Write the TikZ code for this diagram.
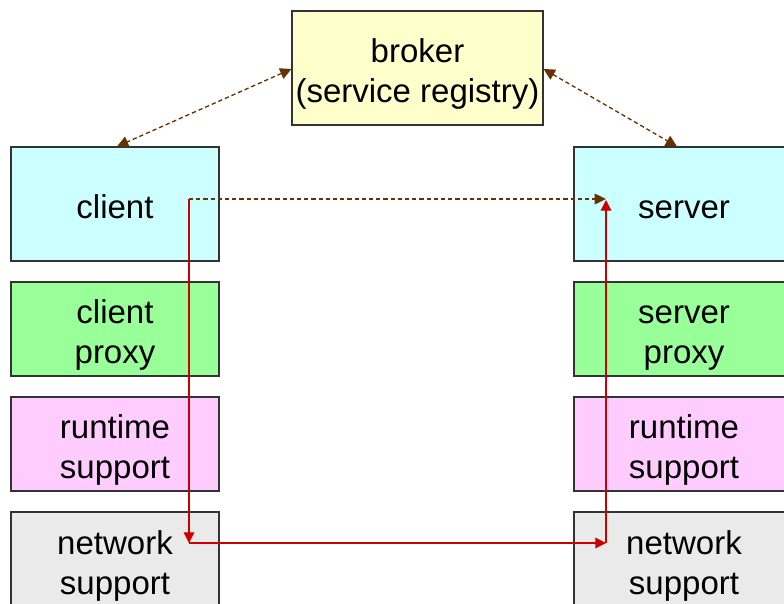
\documentclass[tikz,border=0pt]{standalone}
\usepackage{fontspec}
\setmainfont{Liberation Sans}
\usetikzlibrary{arrows.meta}
\definecolor{brokerfill}{HTML}{FFFFCC}
\definecolor{cyanfill}{HTML}{CCFFFF}
\definecolor{greenfill}{HTML}{99FF99}
\definecolor{pinkfill}{HTML}{FFCCFF}
\definecolor{grayfill}{HTML}{EAEAEA}
\definecolor{brownline}{HTML}{663300}
\definecolor{redline}{HTML}{CC0000}
\tikzset{
  box/.style={draw=black!80, line width=0.8pt, inner sep=0pt},
  lbl/.style={align=center, inner sep=0pt, yshift=-4.5pt,
    font=\fontsize{24.75}{30}\selectfont},
  brokerarrow/.style={brownline, line width=1pt, dash pattern=on 3.2pt off 2.2pt,
    {Triangle[length=8.5pt,width=8.5pt]}-{Triangle[length=8.5pt,width=8.5pt]}},
  callarrow/.style={brownline, line width=1pt, dash pattern=on 3.2pt off 2.2pt,
    -{Triangle[length=8.5pt,width=8pt]}},
  flowarrow/.style={redline, line width=0.9pt, -{Triangle[length=8pt,width=8pt]}}
}
\begin{document}
\begin{tikzpicture}[x=0.75pt,y=-0.75pt]
\useasboundingbox (0,0) rectangle (784,603);
\clip (0,0) rectangle (784,603);
\node[box, fill=brokerfill, minimum width=188.25pt, minimum height=85.5pt,
  label={[lbl]center:{broker\strut\\(service registry)\strut}}] (broker) at (417.5,68) {};
\node[box, fill=cyanfill, minimum width=156pt, minimum height=85.5pt,
  label={[lbl]center:{client\strut}}] (client) at (115,204) {};
\node[box, fill=greenfill, minimum width=156pt, minimum height=70.5pt,
  label={[lbl]center:{client\strut\\proxy\strut}}] (cproxy) at (115,329) {};
\node[box, fill=pinkfill, minimum width=156pt, minimum height=70.5pt,
  label={[lbl]center:{runtime\strut\\support\strut}}] (crun) at (115,444) {};
\node[box, fill=grayfill, minimum width=156pt, minimum height=72pt,
  label={[lbl]center:{network\strut\\support\strut}}] (cnet) at (115,560) {};
\node[box, fill=cyanfill, minimum width=165pt, minimum height=85.5pt,
  label={[lbl]center:{server\strut}}] (server) at (684,204) {};
\node[box, fill=greenfill, minimum width=165pt, minimum height=70.5pt,
  label={[lbl]center:{server\strut\\proxy\strut}}] (sproxy) at (684,329) {};
\node[box, fill=pinkfill, minimum width=165pt, minimum height=70.5pt,
  label={[lbl]center:{runtime\strut\\support\strut}}] (srun) at (684,444) {};
\node[box, fill=grayfill, minimum width=165pt, minimum height=72pt,
  label={[lbl]center:{network\strut\\support\strut}}] (snet) at (684,560) {};
\coordinate (a) at (189,199);
\coordinate (b) at (606,199);
\coordinate (c) at (189,543);
\coordinate (d) at (606,543);
\draw[brokerarrow] ([yshift=-0.75pt]broker.west) -- ([xshift=1.5pt]client.north);
\draw[brokerarrow] ([yshift=-0.75pt]broker.east) -- ([xshift=-5.25pt]server.north);
\draw[callarrow] (a) -- (b);
\draw[flowarrow] (a) -- (c);
\draw[flowarrow] (c) -- (d);
\draw[flowarrow] (d) -- ([yshift=-0.75pt]b);
\end{tikzpicture}
\end{document}
